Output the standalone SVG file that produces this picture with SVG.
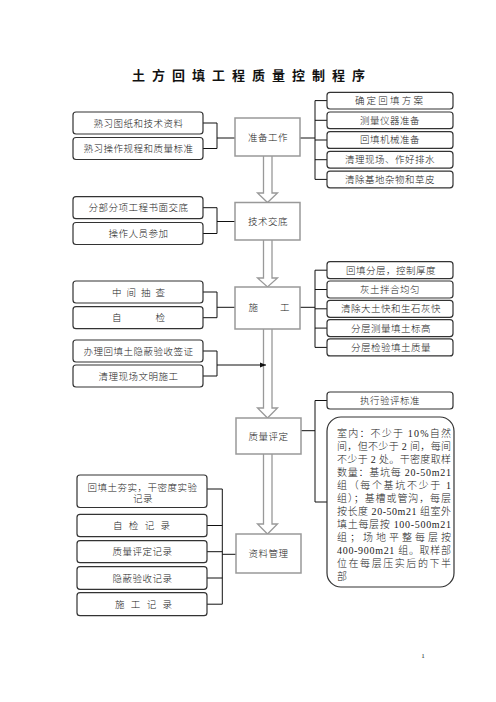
<svg xmlns="http://www.w3.org/2000/svg" width="496" height="702" viewBox="0 0 496 702">
<defs>
<marker id="ah" viewBox="0 0 10 10" refX="10" refY="5" markerWidth="6" markerHeight="6" markerUnits="userSpaceOnUse" orient="auto">
<path d="M0,1 L10,5 L0,9 Z" fill="#111"/>
</marker>
</defs>
<style>
text{font-family:"Liberation Serif","Noto Sans CJK SC",serif;fill:#222;font-size:9.5px;font-weight:300}
.c{text-anchor:middle;letter-spacing:0.5px}
.title{font-size:13px;font-weight:700;fill:#111}
.sb{fill:#fff;stroke:#333;stroke-width:1.2}
.cb{fill:#fff;stroke:#999;stroke-width:1.5}
.ha{fill:#fff;stroke:#999;stroke-width:1.3;stroke-linejoin:miter}
.ln{fill:none;stroke:#111;stroke-width:1}
.bt{font-size:10px}
</style>
<rect width="496" height="702" fill="#fff"/>
<text class="title" x="132" y="79.5" textLength="233" lengthAdjust="spacing">土方回填工程质量控制程序</text>

<g id="connectors">
<path class="ha" d="M263.5,156 V193 H257.5 L267.5,202.5 L277.5,193 H272 V156"/>
<path class="ha" d="M263.5,240 V278 H257.5 L267.5,287 L277.5,278 H272 V240"/>
<path class="ha" d="M263.5,329 V408 H257.5 L267.5,418 L277.5,408 H272 V329"/>
<path class="ha" d="M263.5,454 V524 H257.5 L267.5,534 L277.5,524 H272 V454"/>
<path class="ln" d="M203,123 H217 V148.5 H203 M217,138 H235"/>
<path class="ln" d="M300,138 H315 M327,100.6 H315 V179.4 H327 M315,120.3 H327 M315,140 H327 M315,159.7 H327"/>
<path class="ln" d="M203,207.7 H217 V233.5 H203 M217,221.5 H235"/>
<path class="ln" d="M203,292 H217 V317.7 H203 M217,307.3 H235"/>
<path class="ln" d="M300,307.3 H315 M327,270.2 H315 V347.4 H327 M315,289.5 H327 M315,308.8 H327 M315,328.1 H327"/>
<path class="ln" d="M203,351 H217 V376 H203"/>
<line class="ln" x1="217" y1="365" x2="266" y2="365" marker-end="url(#ah)"/>
<path class="ln" d="M301,430.7 H315 M327,400.5 H315 V502 H327"/>
<path class="ln" d="M207,489 H222.3 V604.2 H207 M207,525.5 H222.3 M207,551.7 H222.3 M207,578 H222.3 M222.3,554.3 H236"/>
</g>

<g id="n-prep"><rect class="cb" x="235" y="118" width="65" height="38"/><text class="c" x="268" y="140.5">准备工作</text></g>
<g id="n-tech"><rect class="cb" x="235" y="202.5" width="65" height="37.5"/><text class="c" x="268" y="225">技术交底</text></g>
<g id="n-build"><rect class="cb" x="235" y="287" width="65" height="42"/><text x="248.5" y="311" textLength="41" lengthAdjust="spacing">施工</text></g>
<g id="n-quality"><rect class="cb" x="236" y="418" width="65" height="36"/><text class="c" x="268.5" y="439.5">质量评定</text></g>
<g id="n-docs"><rect class="cb" x="236" y="534" width="65" height="39"/><text class="c" x="268.5" y="557">资料管理</text></g>

<g id="l-a1"><rect class="sb" x="73" y="112" width="130" height="22" rx="3"/><text class="c" x="138.5" y="126.5">熟习图纸和技术资料</text></g>
<g id="l-a2"><rect class="sb" x="73" y="137.5" width="130" height="22" rx="3"/><text class="c" x="138.5" y="152">熟习操作规程和质量标准</text></g>
<g id="l-b1"><rect class="sb" x="73" y="196.7" width="130" height="22" rx="3"/><text class="c" x="138.5" y="211.2">分部分项工程书面交底</text></g>
<g id="l-b2"><rect class="sb" x="73" y="222.5" width="130" height="22" rx="3"/><text class="c" x="138.5" y="237">操作人员参加</text></g>
<g id="l-c1"><rect class="sb" x="73" y="281" width="130" height="22" rx="3"/><text x="112" y="295.5" textLength="53" lengthAdjust="spacing">中间抽查</text></g>
<g id="l-c2"><rect class="sb" x="73" y="306.7" width="130" height="22" rx="3"/><text x="112" y="321.2" textLength="53" lengthAdjust="spacing">自检</text></g>
<g id="l-d1"><rect class="sb" x="73" y="340" width="130" height="22" rx="3"/><text class="c" x="138.5" y="354.5">办理回填土隐蔽验收签证</text></g>
<g id="l-d2"><rect class="sb" x="73" y="365" width="130" height="22" rx="3"/><text class="c" x="138.5" y="379.5">清理现场文明施工</text></g>

<g id="r-a1"><rect class="sb" x="327" y="92.3" width="126" height="16.7" rx="3"/><text class="c" x="390" y="104" style="letter-spacing:2.2px">确定回填方案</text></g>
<g id="r-a2"><rect class="sb" x="327" y="112" width="126" height="16.7" rx="3"/><text class="c" x="390" y="123.7">测量仪器准备</text></g>
<g id="r-a3"><rect class="sb" x="327" y="131.7" width="126" height="16.7" rx="3"/><text class="c" x="390" y="143.4">回填机械准备</text></g>
<g id="r-a4"><rect class="sb" x="327" y="151.4" width="126" height="16.7" rx="3"/><text class="c" x="390" y="163.1">清理现场、作好排水</text></g>
<g id="r-a5"><rect class="sb" x="327" y="171.1" width="126" height="16.7" rx="3"/><text class="c" x="390" y="182.8">清除基地杂物和草皮</text></g>

<g id="r-c1"><rect class="sb" x="327" y="261.7" width="126" height="17" rx="3"/><text class="c" x="391" y="273.6">回填分层，控制厚度</text></g>
<g id="r-c2"><rect class="sb" x="327" y="281" width="126" height="17" rx="3"/><text class="c" x="390" y="292.9">灰土拌合均匀</text></g>
<g id="r-c3"><rect class="sb" x="327" y="300.3" width="126" height="17" rx="3"/><text class="c" x="391" y="312.2">清除大土快和生石灰快</text></g>
<g id="r-c4"><rect class="sb" x="327" y="319.6" width="126" height="17" rx="3"/><text class="c" x="391" y="331.5">分层测量填土标高</text></g>
<g id="r-c5"><rect class="sb" x="327" y="338.9" width="126" height="17" rx="3"/><text class="c" x="391" y="350.8">分层检验填土质量</text></g>

<g id="r-q1"><rect class="sb" x="327" y="392" width="126" height="17" rx="3"/><text class="c" x="390" y="403.9">执行验评标准</text></g>
<g id="r-q2"><rect class="sb" x="327" y="417" width="127" height="170" rx="14"/>
<text class="bt" x="337" y="437" textLength="114" lengthAdjust="spacing">室内：不少于 10%自然</text>
<text class="bt" x="337" y="450" textLength="114" lengthAdjust="spacing">间，但不少于 2 间，每间</text>
<text class="bt" x="337" y="463" textLength="114" lengthAdjust="spacing">不少于 2 处。干密度取样</text>
<text class="bt" x="337" y="476" textLength="114" lengthAdjust="spacing">数量：基坑每 20-50m21</text>
<text class="bt" x="337" y="489" textLength="114" lengthAdjust="spacing">组（每个基坑不少于 1</text>
<text class="bt" x="337" y="502" textLength="114" lengthAdjust="spacing">组）；基槽或管沟，每层</text>
<text class="bt" x="337" y="515" textLength="114" lengthAdjust="spacing">按长度 20-50m21 组室外</text>
<text class="bt" x="337" y="528" textLength="114" lengthAdjust="spacing">填土每层按 100-500m21</text>
<text class="bt" x="337" y="541" textLength="114" lengthAdjust="spacing">组；场地平整每层按</text>
<text class="bt" x="337" y="554" textLength="114" lengthAdjust="spacing">400-900m21 组。取样部</text>
<text class="bt" x="337" y="567" textLength="114" lengthAdjust="spacing">位在每层压实后的下半</text>
<text class="bt" x="337" y="580">部</text>
</g>

<g id="l-e1"><rect class="sb" x="77" y="475" width="130" height="32.5" rx="3"/><text class="c" x="142.5" y="491">回填土夯实，干密度实验</text><text class="c" x="143" y="502">记录</text></g>
<g id="l-e2"><rect class="sb" x="77" y="514.3" width="130" height="22.4" rx="3"/><text x="113" y="529" textLength="57" lengthAdjust="spacing">自检记录</text></g>
<g id="l-e3"><rect class="sb" x="77" y="540.7" width="130" height="22" rx="3"/><text class="c" x="142.5" y="555.2">质量评定记录</text></g>
<g id="l-e4"><rect class="sb" x="77" y="566.7" width="130" height="22.6" rx="3"/><text class="c" x="142.5" y="581.5">隐蔽验收记录</text></g>
<g id="l-e5"><rect class="sb" x="77" y="592.7" width="130" height="23" rx="3"/><text x="115" y="607.7" textLength="57" lengthAdjust="spacing">施工记录</text></g>

<text x="423" y="658" style="font-size:7px;text-anchor:middle">1</text>
</svg>
